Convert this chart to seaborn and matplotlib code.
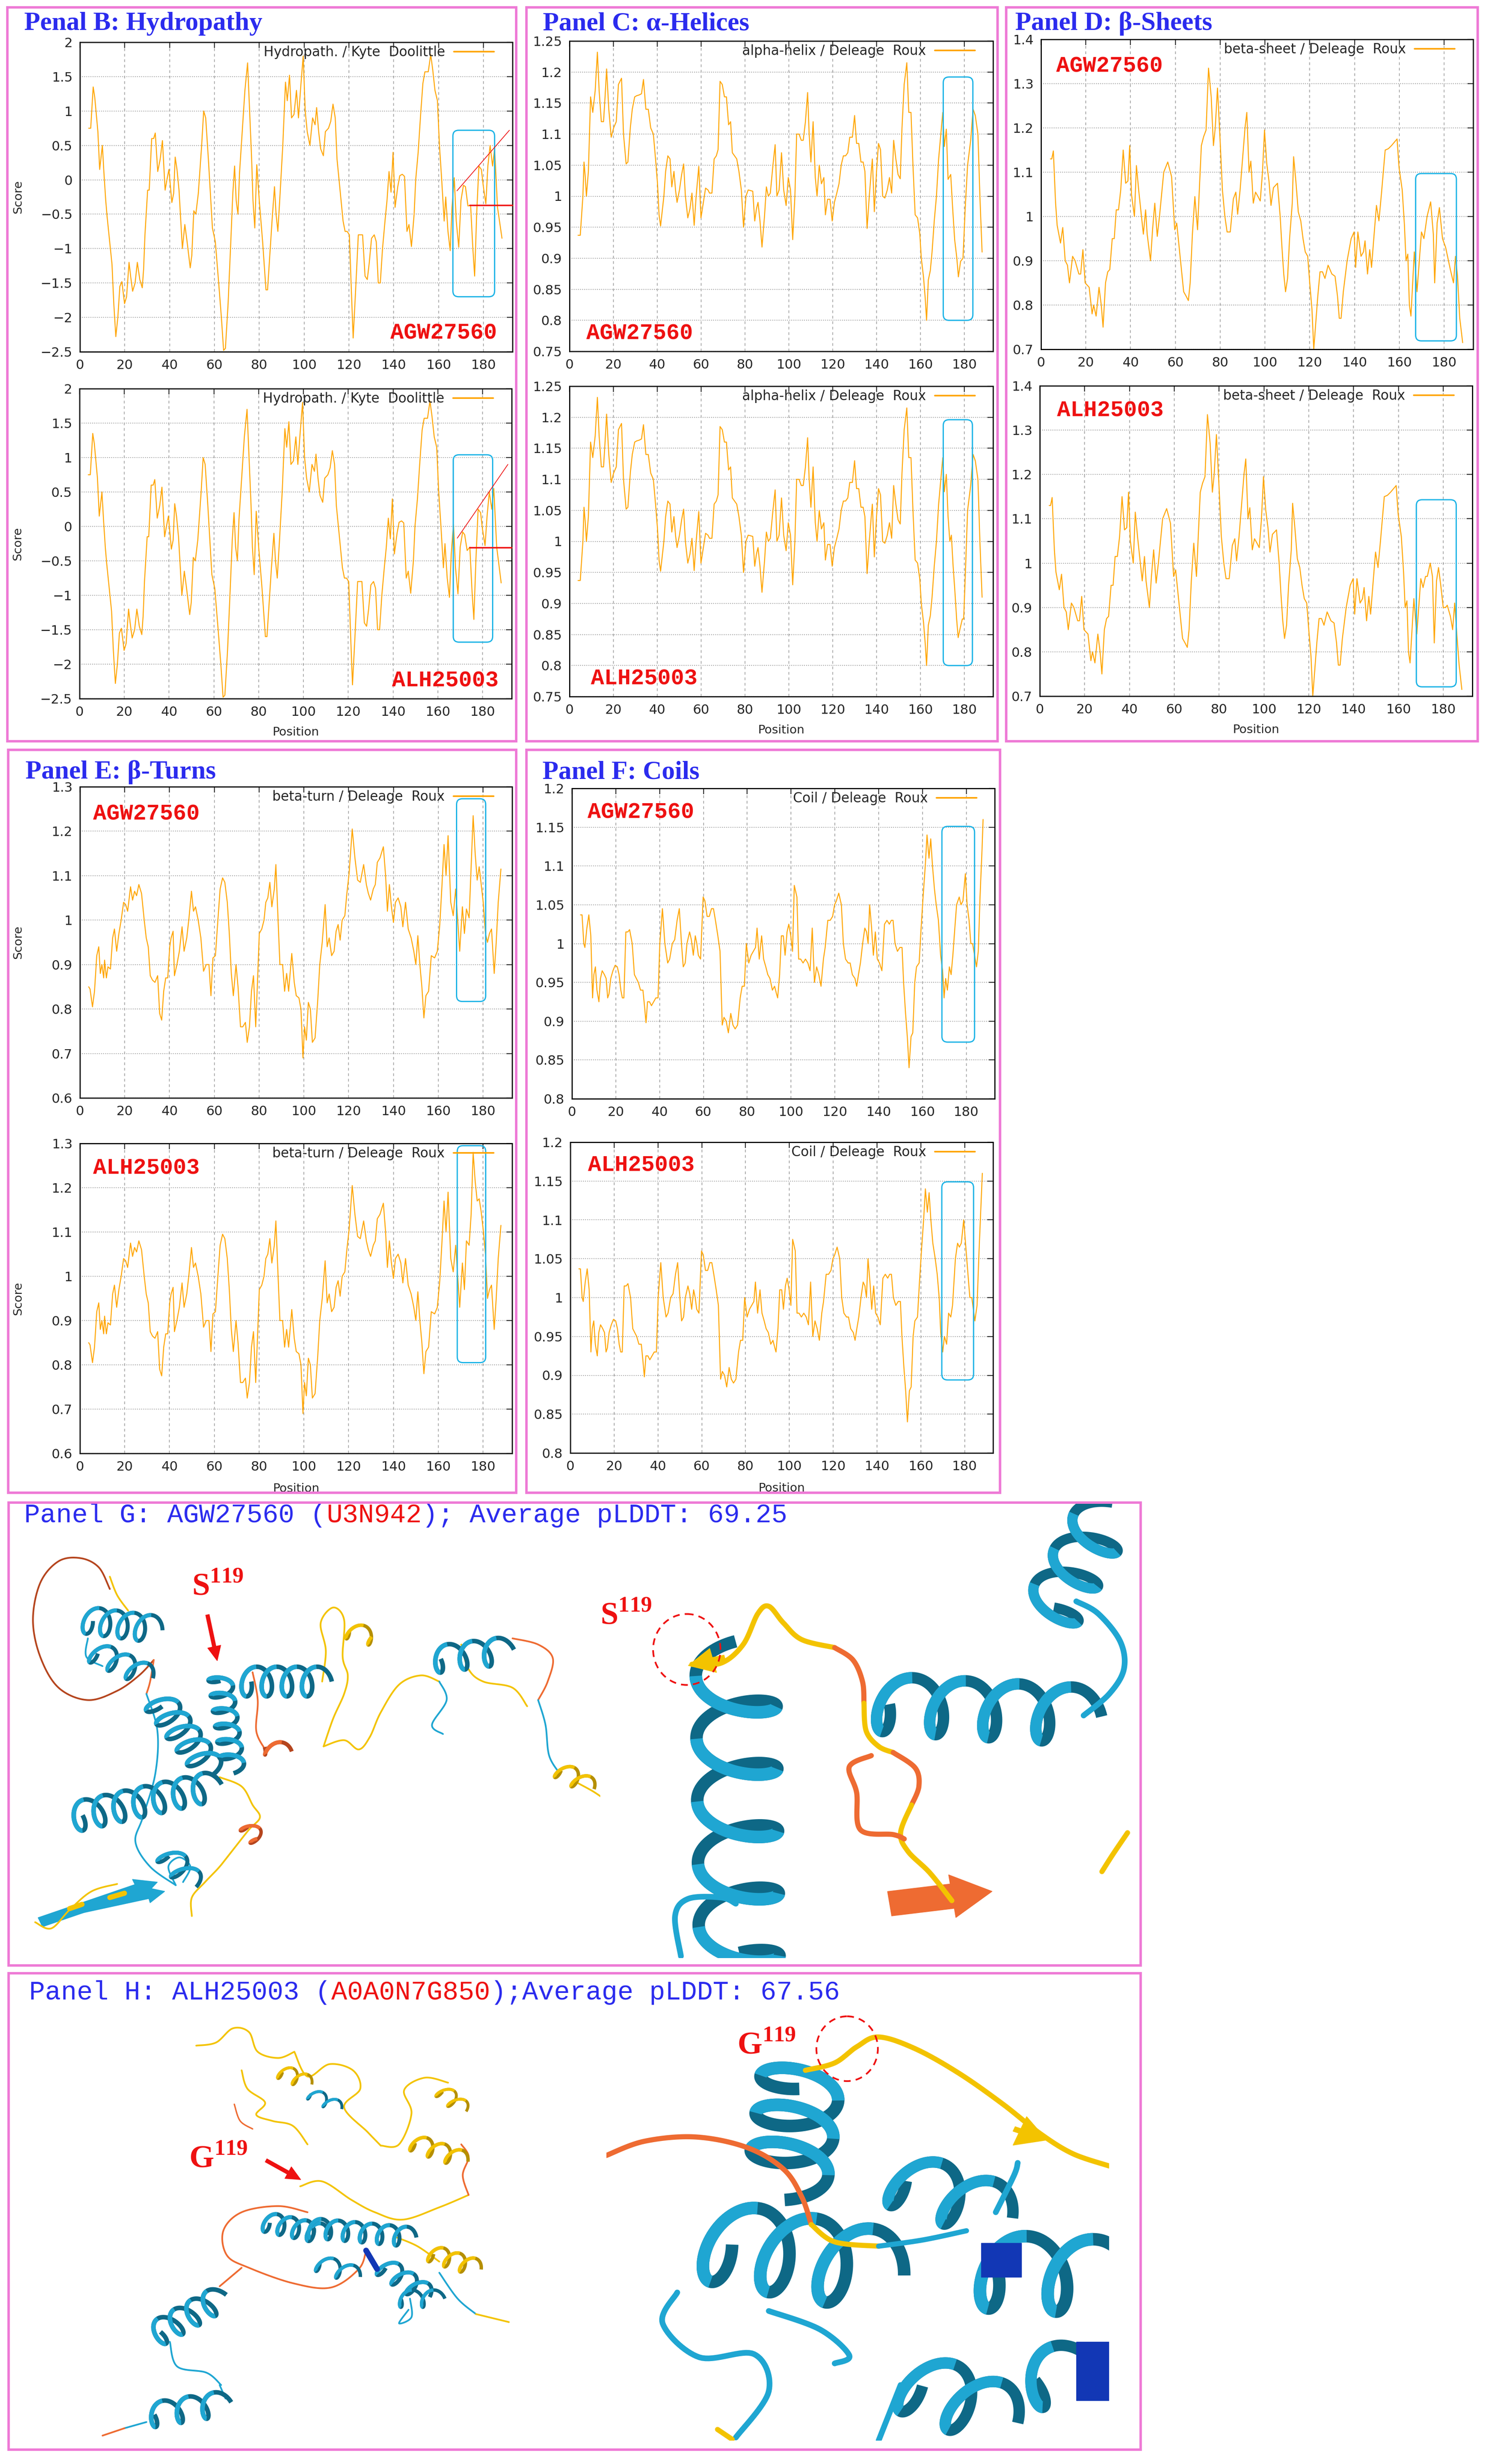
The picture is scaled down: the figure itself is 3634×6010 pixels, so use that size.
import numpy as np
import pandas as pd
import matplotlib
matplotlib.use("Agg")
import matplotlib.pyplot as plt
import seaborn as sns
from matplotlib.patches import FancyBboxPatch, Rectangle, Ellipse, FancyArrow
from matplotlib.ticker import FuncFormatter

sns.set_style("white")
plt.rcParams['font.family'] = ['DejaVu Sans']
plt.rcParams['mathtext.fontset'] = 'custom'
plt.rcParams['mathtext.rm'] = 'Liberation Serif'
plt.rcParams['mathtext.bf'] = 'Liberation Serif:bold'

# ------------------------------------------------------------------ data
# (position, score); head = shared part,
# tails = region that differs between the two sequences
hyd_head = [(3.9,0.75),(4.8,0.75),(5.9,1.35),(6.6,1.2),(8.0,0.7),(8.8,0.15),(10.0,0.5),(10.7,0.1),(11.5,-0.3),(12.1,-0.53),
 (14.3,-1.23),(15.1,-1.8),(16.0,-2.28),(16.9,-2.0),(17.8,-1.55),(18.7,-1.48),(19.9,-1.8),(20.8,-1.7),(21.9,-1.2),(22.6,-1.4),
 (23.5,-1.62),(24.6,-1.5),(25.6,-1.2),(26.7,-1.45),(27.8,-1.57),(28.4,-1.3),(29.0,-0.8),(30.2,-0.15),(30.9,-0.15),(32.0,0.6),
 (32.9,0.6),(33.6,0.68),(34.7,0.12),(35.8,0.3),(36.8,0.57),(38.0,-0.15),(38.8,0.0),(39.7,0.15),(41.0,-0.33),(41.8,-0.2),
 (42.5,0.33),(43.3,0.15),(44.2,-0.15),(45.7,-1.0),(46.8,-0.65),(47.8,-0.9),(49.2,-1.28),(49.9,-1.1),(50.8,-0.45),(51.7,-0.5),
 (52.8,-0.2),(54.3,0.5),(55.2,1.0),(56.1,0.9),(57.3,0.3),(58.2,-0.2),(59.1,-0.7),(60.4,-0.9),(61.9,-1.5),(63.1,-2.0),
 (64.1,-2.48),(64.9,-2.45),(66.1,-1.8),(67.3,-0.9),(68.2,-0.2),(69.0,0.2),(69.7,-0.3),(70.5,-0.5),(71.2,0.1),(72.4,0.7),
 (73.6,1.3),(74.8,1.7),(75.7,1.0),(76.6,0.3),(77.2,-0.3),(78.0,-0.7),(78.9,0.22),(80.0,-0.3),(81.5,-0.9),(83.0,-1.6),
 (83.7,-1.6),(84.5,-1.2),(85.7,-0.6),(86.8,-0.1),(87.5,-0.5),(88.3,-0.75),(89.3,-0.2),(90.5,0.5),(91.7,1.42),(92.5,1.15),
 (93.5,1.52),(94.4,0.9),(95.5,0.95),(96.6,1.3),(97.5,0.9),(98.5,1.35),(99.6,1.8),(100.5,1.0),(101.4,0.7),(102.6,0.5),
 (103.8,0.9),(104.9,0.8),(105.6,1.05),(106.5,0.7),(107.4,0.45),(108.6,0.35),(109.5,0.7),(110.9,0.75),(111.9,0.85),(112.9,1.1),
 (113.9,0.9),(114.7,0.3),(115.6,0.0),(116.5,-0.3),(117.4,-0.6),(118.3,-0.75),(119.2,-0.75),(120.2,-0.8),(121.2,-1.7),(121.9,-2.3),
 (123.0,-1.6),(124.2,-0.8),(125.2,-0.8),(126.1,-0.8),(127.2,-1.4),(128.2,-1.45),(129.1,-1.2),(130.1,-0.85),(131.3,-0.8),(132.2,-0.9),
 (133.1,-1.5),(134.0,-1.5),(135.0,-1.0),(136.1,-0.6),(137.0,-0.3),(137.9,0.12),(138.8,-0.18),(139.7,0.4),(140.6,-0.4),(141.8,-0.1),
 (142.7,0.06),(143.8,0.08),(144.8,0.05),(145.9,-0.75),(146.8,-0.65),(147.9,-0.97),(149.1,-0.5),(149.8,0.0),(150.9,0.4),(151.9,0.9),
 (153.0,1.4),(153.9,1.57),(155.4,1.57),(156.5,1.82),(157.4,1.6),(158.4,1.3),(159.5,1.15),(160.4,0.5),(161.4,0.0),(162.5,-0.6),
 (163.2,-0.25),(164.2,-0.75),(165.2,-1.03)]
hyd_tail_agw = [(166.0,-0.4),(167.0,0.03),(167.9,-0.6),(169.0,-0.98),(170.0,-0.3),(171.1,-0.08),(172.0,-0.1),(173.1,-0.38),
 (174.3,-0.37),(175.3,-1.0),(176.1,-1.4),(177.0,-0.5),(178.0,0.2),(179.1,0.15),(180.0,-0.1),(181.1,-0.35),(182.0,0.2),
 (183.0,0.5),(184.1,0.2),(185.0,0.45),(186.3,-0.4),(188.3,-0.85)]
hyd_tail_alh = [(166.0,-0.4),(167.0,0.03),(167.9,-0.6),(169.0,-0.98),(170.0,-0.3),(171.1,-0.08),(172.0,-0.12),(173.1,-0.35),
 (174.3,-0.3),(175.3,-0.95),(176.1,-1.35),(177.0,-0.5),(178.0,0.25),(179.1,0.2),(180.0,-0.05),(181.1,-0.28),(182.0,0.15),
 (183.0,0.5),(184.1,0.25),(185.0,0.55),(186.3,-0.3),(188.3,-0.82)]

helix_head = [(3.9,0.937),(4.9,0.937),(6.1,1.0),(6.6,1.055),(7.2,1.03),(7.7,1.0),(8.6,1.04),(9.6,1.16),(10.6,1.135),(11.7,1.17),
 (12.7,1.232),(13.5,1.17),(14.5,1.12),(15.5,1.12),(16.2,1.16),(16.9,1.205),(17.9,1.14),(19.0,1.095),(20.1,1.11),(21.3,1.12),
 (22.3,1.18),(23.7,1.19),(24.6,1.1),(25.8,1.052),(26.6,1.055),(27.7,1.11),(28.6,1.14),(29.7,1.16),(30.7,1.162),(31.7,1.163),
 (32.8,1.165),(33.7,1.188),(34.8,1.14),(35.9,1.14),(37.0,1.11),(38.2,1.1),(39.2,1.06),(40.1,1.02),(40.8,0.97),(41.5,0.952),
 (43.0,1.0),(43.8,1.04),(44.8,1.065),(45.8,1.06),(46.6,1.015),(47.6,1.04),(48.3,1.01),(49.0,0.99),(50.1,1.01),(51.1,1.035),
 (52.0,1.052),(52.8,1.0),(53.9,0.965),(54.9,0.98),(55.8,1.005),(56.8,0.953),(57.7,1.0),(58.9,1.048),(59.9,0.965),(61.0,0.99),
 (62.0,1.013),(63.1,1.01),(63.8,1.005),(64.9,1.005),(65.9,1.06),(66.9,1.065),(67.7,1.075),(68.6,1.185),(69.6,1.18),(70.6,1.16),
 (71.5,1.16),(72.5,1.115),(73.4,1.12),(74.2,1.07),(75.2,1.065),(76.2,1.06),(77.2,1.04),(78.3,1.01),(79.3,0.95),(80.4,1.0),
 (81.4,1.01),(82.5,1.009),(83.5,1.008),(84.4,0.96),(85.2,0.98),(85.9,0.99),(86.8,0.96),(87.7,0.918),(88.9,0.97),(89.7,1.015),
 (90.6,1.0),(91.5,1.005),(92.7,1.05),(93.7,1.083),(94.5,1.0),(95.5,1.01),(96.6,1.07),(97.6,1.01),(98.7,0.985),(99.7,1.03),
 (100.7,1.01),(101.7,0.93),(102.7,1.0),(103.5,1.1),(104.6,1.1),(105.6,1.09),(106.5,1.09),(107.5,1.12),(108.5,1.167),(109.2,1.1),
 (110.0,1.055),(111.0,1.12),(112.0,1.03),(112.8,1.0),(113.8,1.05),(114.8,1.02),(115.9,1.03),(116.6,0.97),(117.6,0.995),(118.7,0.995),
 (119.7,0.96),(120.7,0.99),(121.8,1.005),(122.8,1.02),(123.8,1.05),(124.8,1.065),(125.8,1.065),(126.8,1.07),(127.7,1.095),(128.9,1.095),
 (129.9,1.13),(130.8,1.085),(131.8,1.085),(132.8,1.055),(133.8,1.055),(134.6,1.04),(135.6,0.948),(136.6,1.0),(137.5,1.04),(138.0,1.06),
 (138.9,0.975),(139.9,1.04),(140.8,1.085),(141.7,1.075),(142.7,1.0),(143.7,0.997),(144.8,1.01),(145.8,1.03),(146.8,1.005),(147.7,1.09),
 (148.7,1.06),(149.7,1.035),(150.7,1.028),(151.5,1.11),(152.5,1.18),(153.7,1.215),(154.6,1.135),(155.6,1.135),(156.5,1.05),(157.5,0.97),
 (158.6,0.965),(159.6,0.94),(160.3,0.9),(161.3,0.87),(162.1,0.835),(162.7,0.8),(163.5,0.865),(164.4,0.88),(165.2,0.91)]
helix_tail_agw = [(166.2,0.96),(167.2,1.0),(168.2,1.06),(169.2,1.1),(170.1,1.135),(170.8,1.08),(171.7,1.108),(172.5,1.027),
 (173.7,1.035),(174.6,0.98),(175.5,0.93),(176.5,0.9),(177.2,0.87),(178.2,0.895),(179.3,0.9),(180.3,0.98),(181.4,1.05),
 (182.8,1.09),(183.9,1.14),(184.9,1.13),(186.1,1.1),(187.0,1.0),(188.0,0.91)]
helix_tail_alh = [(166.2,0.96),(167.2,1.0),(168.2,1.06),(169.2,1.1),(170.1,1.135),(170.8,1.08),(171.7,1.108),(172.5,1.04),
 (173.3,1.0),(174.0,1.01),(174.8,0.96),(175.6,0.92),(176.4,0.875),(177.1,0.845),(178.0,0.86),(179.0,0.875),(179.6,0.875),
 (180.4,0.95),(181.4,1.05),(182.8,1.09),(183.9,1.14),(184.9,1.13),(186.1,1.1),(187.0,1.0),(188.0,0.91)]

sheet_head = [(4.2,1.13),(4.8,1.13),(5.5,1.148),(6.5,1.03),(7.2,0.98),(8.7,0.94),(9.7,0.975),(10.8,0.9),(11.8,0.89),(12.7,0.85),
 (14.1,0.91),(15.2,0.9),(16.9,0.87),(17.7,0.87),(18.7,0.925),(19.7,0.85),(21.5,0.84),(22.8,0.78),(23.5,0.8),(24.6,0.775),
 (25.9,0.84),(26.9,0.8),(27.7,0.75),(28.8,0.85),(29.8,0.875),(30.7,0.88),(31.8,0.95),(32.7,0.95),(33.6,1.015),(34.6,1.015),
 (35.6,1.06),(36.7,1.15),(37.8,1.075),(38.8,1.08),(39.6,1.16),(40.4,1.05),(41.7,1.0),(42.6,1.115),(43.6,1.06),(45.7,0.96),
 (46.7,1.015),(47.4,0.96),(48.9,0.9),(49.8,0.97),(50.8,1.03),(51.9,0.955),(52.9,1.0),(54.8,1.1),(56.6,1.123),(58.3,1.09),
 (59.7,0.97),(60.6,0.985),(62.3,0.9),(63.7,0.83),(64.8,0.82),(65.8,0.81),(66.6,0.85),(67.6,0.96),(68.7,1.045),(69.9,0.97),
 (70.6,1.05),(71.6,1.16),(72.6,1.18),(73.7,1.195),(74.8,1.335),(76.0,1.27),(77.0,1.16),(77.8,1.2),(78.8,1.29),(79.9,1.18),
 (81.0,1.06),(82.1,1.0),(83.1,0.965),(84.5,0.965),(85.9,1.04),(87.0,1.055),(87.8,1.005),(88.9,1.06),(90.0,1.13),(91.1,1.2),
 (91.9,1.235),(92.9,1.1),(93.7,1.125),(94.8,1.03),(95.8,1.055),(96.9,1.045),(97.9,1.035),(98.9,1.1),(99.8,1.195),(100.8,1.12),
 (101.8,1.08),(102.7,1.025),(103.8,1.065),(104.7,1.07),(105.6,1.075),(106.8,1.0),(107.6,0.93),(108.4,0.87),(109.2,0.83),(110.1,0.86),
 (111.0,0.95),(112.2,1.03),(112.8,1.135),(113.8,1.08),(114.9,1.01),(116.0,0.99),(117.0,0.95),(118.0,0.92),(119.1,0.91),(120.0,0.85),
 (121.0,0.79),(121.8,0.7),(122.7,0.76),(123.6,0.82),(124.6,0.875),(125.7,0.875),(126.8,0.86),(128.2,0.89),(129.9,0.87),(131.3,0.865),
 (132.4,0.82),(133.2,0.77),(134.0,0.77),(135.0,0.83),(136.7,0.9),(138.5,0.95),(139.8,0.965),(140.5,0.885),(141.5,0.965),(142.9,0.91),
 (144.0,0.92),(144.7,0.945),(145.8,0.87),(146.8,0.925),(147.6,0.885),(148.6,0.95),(149.8,1.025),(150.9,0.99),(152.0,1.05),(153.7,1.15),
 (155.1,1.153),(156.5,1.16),(159.0,1.175),(159.9,1.11),(161.3,1.06),(162.3,0.98),(163.0,0.9),(163.8,0.915),(164.5,0.8),(165.2,0.775)]
sheet_tail_agw = [(166.7,0.92),(167.9,0.83),(169.9,0.965),(171.0,0.95),(172.4,1.0),(174.0,1.033),(175.2,0.96),(175.8,0.85),
 (176.9,0.985),(177.9,1.02),(179.3,0.95),(180.7,0.93),(182.8,0.88),(184.2,0.85),(185.1,0.91),(186.0,0.865),(187.0,0.77),(188.3,0.715)]
sheet_tail_alh = [(166.9,0.92),(168.2,0.84),(170.0,0.965),(171.0,0.945),(172.1,0.97),(172.9,0.97),(174.2,1.0),(175.2,0.97),
 (176.0,0.82),(177.0,0.96),(177.9,0.99),(178.9,0.95),(180.0,0.9),(181.0,0.9),(181.8,0.905),(183.2,0.88),(184.2,0.85),
 (185.1,0.91),(186.2,0.83),(187.1,0.77),(188.3,0.715)]

turn_head = [(3.9,0.85),(4.5,0.845),(5.6,0.805),(6.5,0.84),(7.5,0.92),(8.4,0.94),(9.1,0.88),(9.8,0.9),(10.6,0.87),(11.0,0.91),
 (11.8,0.87),(12.5,0.895),(13.6,0.89),(14.6,0.96),(15.4,0.98),(16.4,0.93),(17.4,0.97),(18.4,1.0),(19.5,1.04),(20.4,1.035),
 (21.3,1.02),(22.6,1.075),(23.5,1.045),(24.4,1.065),(25.3,1.055),(26.3,1.08),(27.5,1.06),(28.7,1.0),(29.6,0.96),(30.5,0.94),
 (31.4,0.875),(32.4,0.865),(33.5,0.86),(34.7,0.875),(35.6,0.79),(36.5,0.775),(37.4,0.84),(38.3,0.87),(39.2,0.87),(40.1,0.94),
 (40.7,0.96),(41.6,0.975),(42.2,0.875),(43.3,0.9),(44.4,0.93),(45.6,0.985),(46.5,0.93),(47.7,0.96),(48.7,1.005),(49.8,1.065),
 (50.7,1.02),(51.6,1.03),(52.8,1.0),(54.0,0.96),(55.2,0.885),(56.4,0.9),(57.6,0.9),(58.5,0.83),(59.4,0.915),(60.5,0.92),
 (61.6,1.0),(62.6,1.07),(63.7,1.095),(64.7,1.085),(65.8,1.04),(66.7,0.97),(67.6,0.88),(68.5,0.83),(69.7,0.9),(70.6,0.85),
 (71.7,0.76),(72.7,0.76),(73.9,0.77),(74.7,0.725),(75.7,0.76),(76.6,0.84),(77.5,0.875),(78.5,0.76),(79.2,0.85),(80.1,0.97),
 (81.2,0.98),(82.2,1.0),(83.0,1.04),(83.9,1.05),(84.8,1.085),(85.7,1.03),(86.8,1.07),(87.5,1.125),(88.4,1.01),(89.3,0.9),
 (90.5,0.9),(91.4,0.84),(92.3,0.88),(93.2,0.84),(94.6,0.925),(95.7,0.86),(96.6,0.83),(97.8,0.825),(98.7,0.8),(99.6,0.69),
 (100.3,0.76),(101.1,0.73),(102.0,0.815),(102.9,0.8),(103.8,0.725),(105.0,0.735),(106.2,0.82),(107.1,0.9),(108.2,0.95),(109.5,1.035),
 (110.4,0.94),(111.3,0.96),(112.4,0.92),(113.5,0.93),(114.4,0.975),(115.3,0.99),(116.2,0.955),(117.1,1.0),(118.3,1.01),(119.2,1.06),
 (120.2,1.105),(121.6,1.205),(122.8,1.14),(124.0,1.09),(125.2,1.085),(126.7,1.125),(127.9,1.08),(128.8,1.06),(129.8,1.045),(131.0,1.07),
 (131.9,1.08),(132.8,1.13),(134.0,1.14),(135.5,1.165),(136.5,1.1),(137.3,1.02),(138.2,1.08),(139.1,1.03),(140.0,0.995),(140.9,1.04),
 (142.1,1.05),(143.3,1.03),(144.2,0.985),(145.4,1.04),(146.6,0.98),(147.9,0.96),(149.1,0.93),(150.0,0.9),(150.9,0.965),(151.8,0.9),
 (152.7,0.85),(153.6,0.78),(154.5,0.83),(155.7,0.84),(156.9,0.92),(158.4,0.915),(159.6,0.93),(160.7,0.99),(161.7,1.08),(162.6,1.17),
 (163.5,1.1),(164.4,1.19),(165.6,1.04)]
turn_tail_agw = [(166.7,1.01),(167.8,1.07),(168.7,1.0),(169.6,0.93),(170.8,1.03),(171.7,0.97),(172.6,1.025),(173.8,1.005),
 (174.7,1.12),(175.6,1.235),(176.5,1.15),(177.4,1.09),(178.3,1.12),(179.2,1.08),(180.1,1.04),(181.1,0.97),(182.0,0.95),
 (182.9,0.97),(183.8,0.98),(185.0,0.88),(185.9,0.95),(186.8,1.04),(188.0,1.115)]
turn_tail_alh = [(166.7,1.01),(167.8,1.07),(168.7,1.0),(169.6,0.93),(170.8,1.03),(171.7,0.97),(172.6,1.08),(173.8,1.07),
 (174.7,1.14),(175.6,1.28),(176.5,1.215),(177.4,1.17),(178.3,1.175),(179.2,1.145),(180.1,1.105),(181.1,1.05),(182.0,0.95),
 (182.9,0.97),(183.8,0.98),(185.0,0.88),(185.9,0.95),(186.8,1.04),(188.0,1.115)]

coil_head = [(3.9,1.037),(4.6,1.037),(5.4,1.0),(5.9,0.995),(6.8,1.02),(7.7,1.037),(8.6,1.01),(9.4,0.93),(10.0,0.96),(10.7,0.97),
 (11.4,0.94),(12.3,0.925),(13.0,0.955),(13.8,0.965),(14.8,0.96),(15.6,0.955),(16.3,0.93),(16.9,0.935),(17.7,0.955),(18.7,0.965),
 (19.7,0.972),(20.7,0.97),(21.5,0.96),(22.3,0.94),(23.0,0.93),(23.7,0.93),(24.6,1.015),(25.5,1.015),(26.3,1.018),(27.5,1.0),
 (28.5,0.96),(29.4,0.955),(30.3,0.95),(31.3,0.94),(32.4,0.94),(33.1,0.92),(33.8,0.898),(34.5,0.925),(35.4,0.925),(36.3,0.92),
 (37.3,0.925),(38.3,0.93),(39.3,0.93),(40.1,1.0),(41.3,1.045),(42.4,1.0),(43.7,0.975),(44.6,0.98),(45.8,1.0),(46.9,1.005),
 (48.0,1.03),(49.0,1.045),(50.0,1.0),(50.8,0.97),(51.7,0.975),(52.5,1.0),(53.7,1.015),(54.5,1.005),(55.4,0.985),(56.3,1.01),
 (57.0,1.0),(57.7,0.985),(58.7,0.98),(59.9,1.06),(60.7,1.055),(61.7,1.035),(62.7,1.035),(63.7,1.045),(64.6,1.045),(65.5,1.03),
 (66.6,1.01),(67.6,0.99),(68.6,0.895),(69.4,0.905),(70.4,0.9),(71.4,0.885),(72.5,0.91),(73.5,0.895),(74.5,0.89),(75.6,0.895),
 (76.8,0.93),(77.7,0.945),(78.7,0.945),(79.6,1.0),(80.7,0.975),(81.8,0.985),(82.8,0.99),(83.8,0.995),(84.5,1.02),(85.5,0.98),
 (86.6,1.01),(87.5,0.98),(88.5,0.97),(89.4,0.96),(90.4,0.955),(91.5,0.94),(92.5,0.945),(93.4,0.935),(93.9,0.93),(94.8,0.96),
 (95.6,1.01),(96.5,1.01),(97.3,0.985),(98.2,1.015),(99.0,1.025),(99.9,1.01),(100.7,0.99),(101.5,1.075),(102.7,1.06),(103.5,0.98),
 (104.4,0.98),(105.5,0.975),(106.6,0.98),(107.7,0.975),(108.7,0.965),(109.7,1.02),(110.7,0.95),(111.7,0.97),(112.7,0.96),(113.7,0.945),
 (114.8,0.98),(115.6,0.995),(116.8,1.03),(117.9,1.03),(119.0,1.035),(119.9,1.05),(120.7,1.055),(121.8,1.065),(123.0,1.05),(123.9,1.0),
 (124.9,0.98),(126.1,0.975),(127.0,0.975),(128.0,0.96),(129.2,0.955),(130.0,0.945),(130.8,0.96),(131.7,0.975),(132.7,1.0),(133.7,1.02),
 (134.5,1.015),(135.2,1.0),(135.9,1.05),(136.8,1.02),(137.6,0.985),(138.5,1.015),(139.4,0.98),(140.4,0.975),(141.5,0.965),(142.7,1.025),
 (143.8,1.03),(144.9,1.025),(145.8,1.03),(146.6,1.03),(147.5,1.0),(148.6,0.99),(149.7,0.995),(150.7,0.995),(151.4,0.95),(152.3,0.91),
 (153.1,0.88),(153.9,0.84),(154.8,0.88),(155.6,0.885),(156.5,0.95),(157.3,0.97),(158.5,0.975),(159.4,1.02),(160.3,1.06),(161.3,1.1),
 (162.1,1.14),(163.0,1.11),(163.8,1.135),(164.6,1.1),(165.5,1.07)]
coil_tail_agw = [(166.3,1.05),(167.3,1.03),(168.3,0.985),(169.2,0.965),(169.9,0.93),(170.6,0.955),(171.4,0.94),(172.3,0.97),
 (173.1,0.96),(173.9,0.985),(174.8,1.02),(175.6,1.05),(176.8,1.06),(177.6,1.05),(178.5,1.055),(179.6,1.09),(180.4,1.05),
 (181.3,1.03),(182.1,1.0),(182.9,1.0),(183.8,0.985),(184.7,0.97),(185.5,0.99),(186.3,1.06),(187.2,1.12),(187.7,1.16)]
coil_tail_alh = [(166.6,1.05),(167.5,1.03),(168.4,1.0),(169.1,0.955),(170.0,0.93),(170.8,0.95),(171.8,0.94),(172.7,0.98),
 (173.7,0.975),(174.5,0.99),(175.8,1.05),(176.8,1.07),(177.6,1.065),(178.5,1.07),(179.6,1.1),(180.7,1.06),(182.4,1.0),
 (183.3,1.0),(184.7,0.97),(185.7,0.99),(186.6,1.06),(187.5,1.12),(188.1,1.16)]

x_ticks = [0, 20, 40, 60, 80, 100, 120, 140, 160, 180]
hyd_ticks = [-2.5, -2, -1.5, -1, -0.5, 0, 0.5, 1, 1.5, 2]
helix_ticks = [0.75, 0.8, 0.85, 0.9, 0.95, 1.0, 1.05, 1.1, 1.15, 1.2, 1.25]
sheet_ticks = [0.7, 0.8, 0.9, 1.0, 1.1, 1.2, 1.3, 1.4]
turn_ticks = [0.6, 0.7, 0.8, 0.9, 1.0, 1.1, 1.2, 1.3]
coil_ticks = [0.8, 0.85, 0.9, 0.95, 1.0, 1.05, 1.1, 1.15, 1.2]

# highlighted window (x0, x1, y0, y1) for each plot
box_hyd = [(166.4, 185.0, -1.70, 0.72), (166.9, 184.5, -1.68, 1.04)]
box_helix = [(170.3, 183.8, 0.80, 1.192), (170.3, 183.6, 0.80, 1.196)]
box_sheet = [(167.3, 185.5, 0.719, 1.097), (168.0, 185.8, 0.721, 1.143)]
box_turn = [(168.2, 181.2, 0.817, 1.273), (168.5, 181.2, 0.805, 1.295)]
box_coil = [(168.9, 183.8, 0.873, 1.151), (169.6, 184.1, 0.894, 1.149)]
# red marker lines in the hydropathy plots: (xs, ys, width)
red_hyd_top = [([168.2, 191.6], [-0.16, 0.72], 1.3), ([174.0, 193.0], [-0.37, -0.37], 2.6)]
red_hyd_bot = [([168.7, 191.3], [-0.17, 0.90], 1.3), ([174.3, 193.0], [-0.31, -0.31], 2.6)]

samples = ["AGW27560", "ALH25003"]

# ------------------------------------------------------------------ style
W, H = 3634, 6010
ORANGE = '#FFA500'
CYAN = '#1BB3E6'
MAG = '#EE7AD6'
TBLUE = '#2B2BEE'
RED = '#EE1111'
BLUE, BLUE_DK = '#1FA6D2', '#0E6886'
YEL, YEL_DK = '#F3C300', '#B58F00'
ORG, ORG_DK = '#EE6B32', '#B5451E'
NAVY = '#1237B5'

fig = plt.figure(figsize=(W / 100, H / 100), dpi=100)
fig.patch.set_facecolor('white')
fmt = FuncFormatter(lambda v, _: f"{v:g}".replace('-', '\u2212'))


def px_axes(x0, y0, x1, y1):
    return fig.add_axes([x0 / W, 1 - y1 / H, (x1 - x0) / W, (y1 - y0) / H])


def profile(rect, pairs, ylim, yticks, legend_label, sample, spos, box,
            xlabel=False, ylabel=False, reds=(), xlab_y=-0.09):
    x0, y0, x1, y1 = rect
    ax = px_axes(*rect)
    df = pd.DataFrame(pairs, columns=['Position', 'Score'])
    sns.lineplot(data=df, x='Position', y='Score', ax=ax, color=ORANGE, lw=1.7,
                 estimator=None, sort=False, label=legend_label)
    ax.set_xlim(0, 193)
    ax.set_ylim(*ylim)
    ax.set_xticks(x_ticks)
    ax.set_yticks(yticks)
    ax.xaxis.set_major_formatter(fmt)
    ax.yaxis.set_major_formatter(fmt)
    ax.tick_params(direction='in', length=10, width=1.6, top=True, right=True,
                   labelsize=23, pad=13)
    ax.grid(True, axis='y', color='#9a9a9a', ls=':', lw=1.4)
    ax.grid(True, axis='x', color='#9a9a9a', ls=(0, (4, 4)), lw=1.2)
    for s in ax.spines.values():
        s.set_linewidth(2.0)
        s.set_color('black')
    ax.set_xlabel('Position' if xlabel else '', fontsize=21)
    ax.set_ylabel('Score' if ylabel else '', fontsize=21)
    ax.xaxis.set_label_coords(0.5, xlab_y)
    ax.yaxis.set_label_coords(-0.13, 0.5)
    leg = ax.legend(loc='upper right', bbox_to_anchor=(0.965, 1.0), frameon=False,
                    markerfirst=False, fontsize=23.5, handlelength=3.0,
                    handletextpad=0.65, borderpad=0.25, borderaxespad=0)
    for ln in leg.get_lines():
        ln.set_linewidth(2.8)
    sx, sy, ha = spos
    ax.text(sx, sy, sample, transform=ax.transAxes, ha=ha, va='center',
            color=RED, fontsize=39, family='Liberation Mono', weight='bold', zorder=7)
    bx0, bx1, by0, by1 = box
    xr = 193.0 / (x1 - x0)
    yr = (ylim[1] - ylim[0]) / (y1 - y0)
    ax.add_patch(FancyBboxPatch((bx0, by0), bx1 - bx0, by1 - by0,
                                boxstyle=f"round,pad=0,rounding_size={14 * xr}",
                                mutation_aspect=yr / xr, fill=False, ec=CYAN,
                                lw=2.2, zorder=5))
    for xs, ys, lw in reds:
        ax.plot(xs, ys, color=RED, lw=lw, clip_on=False, zorder=6)
    return ax


hyd_agw = hyd_head + hyd_tail_agw
hyd_alh = hyd_head + hyd_tail_alh
profile((195, 103, 1250, 858), hyd_agw, (-2.5, 2), hyd_ticks, 'Hydropath. / Kyte  Doolittle',
        samples[0], (0.964, 0.06, 'right'), box_hyd[0], ylabel=True, reds=red_hyd_top)
profile((194, 948, 1248, 1704), hyd_alh, (-2.5, 2), hyd_ticks, 'Hydropath. / Kyte  Doolittle',
        samples[1], (0.970, 0.058, 'right'), box_hyd[1], xlabel=True, ylabel=True, reds=red_hyd_bot)

profile((1389, 100, 2422, 857), helix_head + helix_tail_agw, (0.75, 1.25), helix_ticks,
        'alpha-helix / Deleage  Roux', samples[0], (0.04, 0.058, 'left'), box_helix[0])
profile((1389, 942, 2422, 1699), helix_head + helix_tail_alh, (0.75, 1.25), helix_ticks,
        'alpha-helix / Deleage  Roux', samples[1], (0.05, 0.058, 'left'), box_helix[1], xlabel=True)

profile((2539, 96, 3593, 852), sheet_head + sheet_tail_agw, (0.7, 1.4), sheet_ticks,
        'beta-sheet / Deleage  Roux', samples[0], (0.035, 0.913, 'left'), box_sheet[0])
profile((2536, 941, 3591, 1698), sheet_head + sheet_tail_alh, (0.7, 1.4), sheet_ticks,
        'beta-sheet / Deleage  Roux', samples[1], (0.04, 0.92, 'left'), box_sheet[1], xlabel=True)

profile((195, 1919, 1249, 2678), turn_head + turn_tail_agw, (0.6, 1.3), turn_ticks,
        'beta-turn / Deleage  Roux', samples[0], (0.03, 0.912, 'left'), box_turn[0], ylabel=True)
profile((195, 2789, 1249, 3545), turn_head + turn_tail_alh, (0.6, 1.3), turn_ticks,
        'beta-turn / Deleage  Roux', samples[1], (0.03, 0.92, 'left'), box_turn[1],
        xlabel=True, ylabel=True, xlab_y=-0.095)

profile((1395, 1923, 2426, 2680), coil_head + coil_tail_agw, (0.8, 1.2), coil_ticks,
        'Coil / Deleage  Roux', samples[0], (0.037, 0.923, 'left'), box_coil[0])
profile((1391, 2786, 2422, 3544), coil_head + coil_tail_alh, (0.8, 1.2), coil_ticks,
        'Coil / Deleage  Roux', samples[1], (0.042, 0.926, 'left'), box_coil[1],
        xlabel=True, xlab_y=-0.095)

# panel titles
titles = [("Penal B: Hydropathy", 59, 73), ("Panel C: \u03b1-Helices", 1324, 73),
          ("Panel D: \u03b2-Sheets", 2476, 73), ("Panel E: \u03b2-Turns", 62, 1899),
          ("Panel F: Coils", 1323, 1899)]
for t, x, y in titles:
    fig.text(x / W, 1 - y / H, t, family='Liberation Serif', weight='bold',
             fontsize=46, color=TBLUE, va='baseline', ha='left')

# white strip that cuts the lowest "Position" labels like in the original
fig.add_artist(Rectangle((0, 1 - 3664 / H), 2460 / W, 21 / H, transform=fig.transFigure,
                         fc='white', ec='none', zorder=20))

# frames
frames = [(18, 18, 1259, 1808), (1284, 18, 2433, 1808), (2454, 18, 3604, 1808),
          (20, 1829, 1259, 3641), (1284, 1829, 2439, 3641),
          (21, 3665, 2782, 4794), (21, 4813, 2782, 5975)]
for x0, y0, x1, y1 in frames:
    fig.add_artist(Rectangle((x0 / W, 1 - y1 / H), (x1 - x0) / W, (y1 - y0) / H,
                             transform=fig.transFigure, fill=False, ec=MAG, lw=4.3, zorder=21))


# structure panel titles (monospace pieces placed side by side, accession in red)
TITLE_FS = 46.5
CHAR_W = 0.6 * TITLE_FS * 100 / 72   # advance of one Liberation Mono glyph in pixels


def mono_title(x, y, full, red_part):
    i = full.index(red_part)
    pieces = [(full[:i], TBLUE, 0), (red_part, RED, i),
              (full[i + len(red_part):], TBLUE, i + len(red_part))]
    for s, c, k in pieces:
        fig.text((x + k * CHAR_W + (0.8 if k else 0)) / W, 1 - y / H, s,
                 family='Liberation Mono', fontsize=TITLE_FS, color=c,
                 va='baseline', ha='left')


mono_title(59, 3713, "Panel G: AGW27560 (U3N942); Average pLDDT: 69.25", "U3N942")
mono_title(71, 4877, "Panel H: ALH25003 (A0A0N7G850);Average pLDDT: 67.56", "A0A0N7G850")


# ------------------------------------------------------------------ structure sketches
def smooth(pts, n=16):
    P = np.asarray(pts, float)
    if len(P) < 3:
        return P
    P = np.vstack([P[0], P, P[-1]])
    out = []
    t = np.linspace(0, 1, n, endpoint=False)[:, None]
    for i in range(1, len(P) - 2):
        p0, p1, p2, p3 = P[i - 1], P[i], P[i + 1], P[i + 2]
        out.append(0.5 * ((2 * p1) + (-p0 + p2) * t + (2 * p0 - 5 * p1 + 4 * p2 - p3) * t ** 2
                          + (-p0 + 3 * p1 - 3 * p2 + p3) * t ** 3))
    out.append(P[-2][None, :])
    return np.vstack(out)


def loop(ax, col, lw, pts):
    s = smooth(pts)
    ax.plot(s[:, 0], s[:, 1], color=col, lw=lw, solid_capstyle='round', solid_joinstyle='round')


def helix(ax, p0, p1, turns, amp, lw, col=BLUE, dk=BLUE_DK):
    p0 = np.array(p0, float)
    p1 = np.array(p1, float)
    d = p1 - p0
    L = np.hypot(*d)
    u = d / L
    nv = np.array([-u[1], u[0]])
    t = np.linspace(0, 1, int(80 * turns) + 20)
    ph = 2 * np.pi * turns * t
    along = t * L + 0.55 * amp * np.cos(ph)
    pts = p0[None, :] + along[:, None] * u[None, :] + (amp * np.sin(ph))[:, None] * nv[None, :]
    ax.plot(pts[:, 0], pts[:, 1], color=dk, lw=lw, solid_capstyle='butt')
    front = np.cos(ph) < 0
    xf = np.where(front, pts[:, 0], np.nan)
    yf = np.where(front, pts[:, 1], np.nan)
    ax.plot(xf, yf, color=col, lw=lw, solid_capstyle='butt')


def struct_axes(zx0, zy0, zx1, zy1):
    ax = px_axes(zx0 / 0.56, 3650 + zy0 / 0.6644, zx1 / 0.56, 3650 + zy1 / 0.6644)
    ax.set_xlim(zx0, zx1)
    ax.set_ylim(zy1, zy0)
    ax.axis('off')
    return ax


def label119(ax, letter, x, y):
    ax.text(x, y, r'$\mathbf{%s}^{\mathbf{119}}$' % letter, color=RED, fontsize=56,
            va='baseline', ha='left', clip_on=False, zorder=10)


def red_arrow(ax, start, end):
    ax.annotate('', xy=end, xytext=start,
                arrowprops=dict(arrowstyle='simple,head_width=1.3,head_length=1.4,tail_width=0.35',
                                color=RED, mutation_scale=18))


# G left overview
gl = struct_axes(12, 60, 820, 760)
gl_loops = [
    (ORG_DK, 3.0, [(150, 150), (135, 115), (110, 100), (80, 105), (55, 140), (45, 200), (55, 260), (80, 310), (120, 330), (160, 315), (190, 290), (210, 265)]),
    (ORG, 3.0, [(210, 265), (205, 300), (200, 320)]),
    (BLUE, 3.0, [(200, 320), (215, 380), (212, 450), (195, 520), (185, 560), (205, 600), (240, 630)]),
    (YEL, 3.0, [(150, 130), (160, 160), (175, 185)]),
    (BLUE, 3.0, [(120, 230), (118, 260), (140, 275)]),
    (YEL, 3.0, [(300, 455), (330, 470), (345, 500), (355, 520), (340, 540), (320, 570), (300, 600), (280, 625), (262, 650), (262, 680)]),
    (YEL, 3.0, [(48, 690), (70, 700), (95, 670), (125, 640), (160, 628)]),
    (BLUE, 3.0, [(240, 630), (230, 600), (245, 585), (260, 600), (250, 625)]),
    (ORG, 3.0, [(345, 285), (352, 330), (350, 380), (362, 410)]),
    (YEL, 3.0, [(440, 300), (445, 250), (438, 205), (455, 180), (470, 200), (468, 260), (475, 290), (470, 320), (455, 360), (442, 405)]),
    (YEL, 3.0, [(442, 405), (470, 395), (490, 410), (505, 390), (520, 350), (545, 305), (575, 290), (600, 300)]),
    (BLUE, 3.0, [(600, 300), (610, 330), (590, 370), (605, 385)]),
    (ORG, 3.0, [(700, 230), (735, 240), (755, 262), (748, 300), (735, 330)]),
    (BLUE, 3.0, [(735, 330), (745, 370), (750, 420), (765, 450)]),
    (YEL, 3.0, [(790, 465), (810, 478), (825, 490)]),
    (YEL, 3.0, [(630, 240), (640, 280), (660, 300), (700, 310), (720, 340)]),
]
for c, lw, pts in gl_loops:
    loop(gl, c, lw, pts)
gl_helices = [((115, 200), (210, 215), 4, 22, 7), ((125, 250), (200, 290), 3, 18, 7),
              ((215, 330), (285, 440), 5, 22, 8), ((300, 290), (318, 440), 6, 16, 8),
              ((100, 520), (290, 470), 7, 24, 8), ((225, 575), (262, 625), 2, 18, 7),
              ((330, 300), (440, 300), 4, 24, 8), ((590, 265), (690, 250), 3, 22, 8)]
for p0, p1, tn, a, lw in gl_helices:
    helix(gl, p0, p1, tn, a, lw)
helix(gl, (470, 215), (515, 230), 1.5, 14, 6, YEL, YEL_DK)
helix(gl, (760, 440), (805, 470), 2, 14, 6, YEL, YEL_DK)
helix(gl, (335, 530), (355, 560), 1.5, 12, 6, ORG, ORG_DK)
helix(gl, (355, 405), (392, 412), 1, 12, 7, ORG, ORG_DK)
gl.add_patch(FancyArrow(55, 690, 160, -65, width=16, head_width=34, head_length=30,
                        length_includes_head=True, color=BLUE))
gl.add_patch(FancyArrow(100, 672, 125, -32, width=12, head_width=26, head_length=24,
                        length_includes_head=True, color=BLUE))
gl.plot([95, 112], [668, 661], color=YEL, lw=9)
gl.plot([150, 170], [650, 643], color=YEL, lw=9)
red_arrow(gl, (283, 190), (297, 268))
label119(gl, "S", 262, 160)

# G right close-up
gr = struct_axes(822, 12, 1545, 748)
helix(gr, (1010, 770), (1005, 265), 5, 55, 22)
helix(gr, (1190, 335), (1480, 355), 4, 45, 20)
helix(gr, (1430, 200), (1510, 30), 3, 40, 18)
gr_loops = [
    (BLUE, 10, [(930, 745), (922, 680), (940, 652), (985, 650), (1005, 660)]),
    (YEL, 9, [(945, 272), (985, 270), (1015, 240), (1035, 190), (1050, 178), (1070, 205), (1095, 232), (1140, 245)]),
    (ORG, 9, [(1140, 245), (1165, 265), (1178, 300), (1180, 335)]),
    (YEL, 9, [(1180, 335), (1183, 380), (1200, 405), (1220, 415)]),
    (ORG, 9, [(1220, 415), (1250, 440), (1255, 470), (1245, 500)]),
    (YEL, 9, [(1245, 500), (1230, 545), (1240, 575), (1270, 610), (1300, 655)]),
    (ORG, 9, [(1190, 420), (1160, 438), (1170, 480), (1175, 540), (1220, 548), (1235, 555)]),
    (BLUE, 10, [(1480, 355), (1515, 320), (1535, 280), (1530, 235), (1500, 190), (1470, 170)]),
    (YEL, 9, [(1505, 608), (1520, 580), (1540, 545)]),
]
for c, lw, pts in gr_loops:
    loop(gr, c, lw, pts)
gr.add_patch(FancyArrow(1215, 660, 140, -20, width=40, head_width=70, head_length=55,
                        length_includes_head=True, color=ORG))
gr.add_patch(FancyArrow(990, 262, -50, 12, width=10, head_width=40, head_length=35,
                        length_includes_head=True, color=YEL, zorder=4))
gr.add_patch(Ellipse((938, 248), 92, 115, fill=False, ec=RED, lw=3, ls=(0, (4, 3)), zorder=9))
label119(gr, "S", 820, 207)

# H left overview
hl = struct_axes(12, 830, 820, 1545)
hl_loops = [
    (YEL, 3, [(268, 890), (295, 885), (318, 862), (340, 868), (352, 900), (380, 910), (402, 900)]),
    (YEL, 3, [(330, 930), (338, 960), (362, 982), (350, 1002), (372, 1012), (400, 1020), (420, 1050)]),
    (YEL, 3, [(402, 900), (420, 940), (450, 920), (482, 930), (492, 960), (470, 990), (502, 1030), (520, 1052)]),
    (YEL, 3, [(520, 1052), (545, 1050), (562, 1000), (552, 962), (580, 942), (612, 950)]),
    (ORG, 2.5, [(320, 985), (328, 1012), (345, 1025)]),
    (YEL, 3, [(410, 1118), (440, 1110), (480, 1140), (512, 1160), (550, 1172), (600, 1152), (640, 1132)]),
    (ORG, 3, [(640, 1132), (632, 1100), (640, 1070), (630, 1050)]),
    (ORG, 3, [(420, 1160), (380, 1150), (330, 1160), (305, 1190), (310, 1230), (340, 1250), (400, 1275), (452, 1282), (490, 1252), (500, 1222)]),
    (ORG, 3, [(300, 1280), (330, 1250)]),
    (BLUE, 3, [(560, 1300), (562, 1330), (545, 1340), (558, 1318)]),
    (BLUE, 3, [(600, 1258), (625, 1300), (650, 1325)]),
    (YEL, 3, [(650, 1325), (695, 1338)]),
    (BLUE, 3, [(232, 1370), (242, 1410), (282, 1420), (302, 1440)]),
    (BLUE, 3, [(300, 1440), (308, 1462)]),
    (BLUE, 3, [(200, 1500), (170, 1510)]),
    (ORG, 3, [(170, 1510), (140, 1522)]),
    (YEL, 3, [(540, 1200), (570, 1215), (600, 1240)]),
]
for c, lw, pts in hl_loops:
    loop(hl, c, lw, pts)
helix(hl, (380, 930), (420, 950), 2, 12, 5, YEL, YEL_DK)
helix(hl, (600, 960), (632, 992), 2, 12, 5, YEL, YEL_DK)
helix(hl, (560, 1045), (632, 1075), 3, 14, 6, YEL, YEL_DK)
helix(hl, (420, 965), (462, 990), 2, 10, 5)
for p0, p1, tn, a, lw in [((360, 1175), (440, 1195), 4, 16, 7), ((420, 1185), (560, 1200), 6, 16, 7),
                          ((430, 1240), (485, 1262), 2, 14, 6), ((520, 1245), (580, 1292), 3, 16, 7),
                          ((540, 1300), (600, 1300), 2, 14, 6), ((210, 1360), (300, 1300), 4, 20, 8),
                          ((200, 1490), (305, 1470), 3, 20, 8)]:
    helix(hl, p0, p1, tn, a, lw)
helix(hl, (585, 1225), (650, 1250), 3, 14, 6, YEL, YEL_DK)
hl.plot([500, 515], [1222, 1252], color=NAVY, lw=10)
red_arrow(hl, (362, 1075), (412, 1108))
label119(hl, "G", 258, 1087)

# H right close-up
hr = struct_axes(828, 835, 1515, 1530)
for p0, p1, tn, a, lw in [((1095, 930), (1075, 1110), 3, 55, 22), ((965, 1205), (1200, 1255), 3, 65, 22),
                          ((1215, 1100), (1360, 1160), 2, 45, 20), ((1330, 1255), (1515, 1265), 2, 60, 22),
                          ((1235, 1430), (1365, 1490), 2, 50, 20), ((1390, 1440), (1515, 1400), 1.5, 45, 20)]:
    helix(hr, p0, p1, tn, a, lw)
hr_loops = [
    (ORG, 9, [(828, 1068), (880, 1045), (950, 1038), (1020, 1055), (1070, 1090), (1095, 1135), (1108, 1180)]),
    (YEL, 9, [(1108, 1180), (1140, 1208), (1200, 1215)]),
    (BLUE, 9, [(1200, 1215), (1260, 1205), (1320, 1190)]),
    (YEL, 9, [(1100, 930), (1140, 918), (1170, 892), (1200, 876), (1250, 895), (1310, 935), (1370, 985), (1420, 1032), (1465, 1065), (1515, 1085)]),
    (BLUE, 10, [(925, 1290), (905, 1340), (955, 1395), (1030, 1390), (1050, 1450), (1005, 1525)]),
    (BLUE, 10, [(1050, 1320), (1120, 1350), (1160, 1392), (1140, 1405)]),
    (BLUE, 10, [(1360, 1160), (1385, 1100), (1390, 1080)]),
    (BLUE, 10, [(1230, 1440), (1210, 1500), (1200, 1530)]),
    (YEL, 9, [(980, 1512), (1000, 1528)]),
]
for c, lw, pts in hr_loops:
    loop(hr, c, lw, pts)
hr.add_patch(FancyArrow(1385, 1025, 45, 18, width=8, head_width=50, head_length=40,
                        length_includes_head=True, color=YEL))
hr.add_patch(Rectangle((1340, 1210), 55, 55, color=NAVY, zorder=4))
hr.add_patch(Rectangle((1470, 1370), 45, 95, color=NAVY, zorder=4))
hr.add_patch(Ellipse((1157, 895), 84, 105, fill=False, ec=RED, lw=3, ls=(0, (4, 3)), zorder=9))
label119(hr, "G", 1007, 903)

fig.savefig("out.png", dpi=100, facecolor='white')
